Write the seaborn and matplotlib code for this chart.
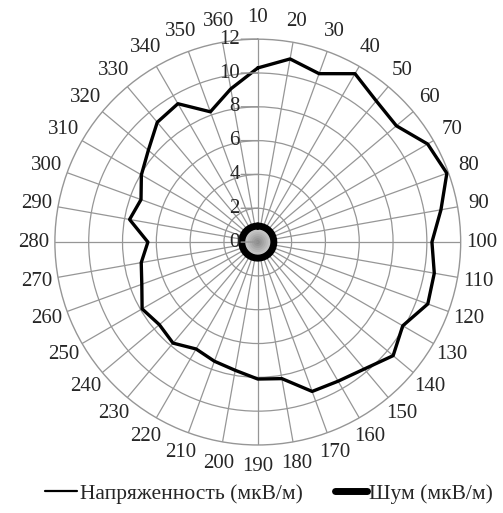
import numpy as np
import pandas as pd
import matplotlib
matplotlib.use("Agg")
import matplotlib.pyplot as plt
from matplotlib.lines import Line2D
import seaborn as sns

# ---- data ----
directions = [10, 20, 30, 40, 50, 60, 70, 80, 90, 100, 110, 120,
              130, 140, 150, 160, 170, 180, 190, 200, 210, 220, 230, 240,
              250, 260, 270, 280, 290, 300, 310, 320, 330, 340, 350, 360]
strength = [10.3, 11.0, 10.6, 11.5, 10.9, 10.7, 11.6, 11.9, 11.0, 10.3, 10.6, 10.7,
            9.9, 10.45, 9.8, 9.5, 9.4, 8.2, 8.1, 7.7, 7.5, 7.3, 7.8, 7.6,
            7.9, 7.3, 7.0, 6.5, 7.7, 7.35, 7.95, 8.45, 9.25, 9.45, 8.2, 9.2]
noise = [0.95, 0.95, 0.95, 0.95, 0.95, 0.95, 0.95, 0.95, 0.95, 0.95, 0.95, 0.95,
         0.95, 0.95, 0.95, 0.95, 0.95, 0.95, 0.95, 0.95, 0.95, 0.95, 0.95, 0.95,
         0.95, 0.95, 0.95, 0.95, 0.95, 0.95, 0.95, 0.95, 0.95, 0.95, 0.95, 0.95]
r_ticks = [0, 2, 4, 6, 8, 10, 12]
label_strength = "Напряженность (мкВ/м)"
label_noise = "Шум (мкВ/м)"

sns.set_style("white")
plt.rcParams['font.family'] = ['Liberation Serif', 'DejaVu Serif']
plt.rcParams['font.size'] = 15

n = len(directions)
theta = np.deg2rad(np.arange(n) * 360.0 / n)
theta_closed = np.append(theta, theta[0] + 2 * np.pi)

df = pd.DataFrame({
    "theta": np.concatenate([theta_closed, theta_closed]),
    "value": np.concatenate([strength + [strength[0]], noise + [noise[0]]]),
    "series": [label_strength] * (n + 1) + [label_noise] * (n + 1),
})

fig = plt.figure(figsize=(5.03, 5.13), dpi=100)
ax = fig.add_axes([0.109, 0.1326, 0.807, 0.791], projection='polar')
ax.set_theta_zero_location('N')
ax.set_theta_direction(-1)
ax.set_ylim(0, 12)

# gray gradient fill inside noise ring
nz = np.array(noise + [noise[0]])
grays = np.linspace(0.85, 0.55, 8)
for k, g in zip(np.linspace(1.0, 0.12, 8), grays):
    ax.fill(theta_closed, nz * k, color=(g, g, g), lw=0, zorder=2)

sub1 = df[df.series == label_strength]
sub2 = df[df.series == label_noise]
sns.lineplot(data=sub1, x="theta", y="value", sort=False, estimator=None,
             color='black', lw=2.4, ax=ax, legend=False, zorder=4)
sns.lineplot(data=sub2, x="theta", y="value", sort=False, estimator=None,
             color='black', lw=5, ax=ax, legend=False, zorder=4)
ax.set_xlabel("")
ax.set_ylabel("")

# grid
ax.set_xticks(theta)
ax.set_xticklabels([str(d) for d in directions], fontsize=15)
ax.tick_params(axis='x', pad=5)
ax.set_yticks(r_ticks[1:-1])
ax.set_yticklabels([])
ax.grid(True, color='#969696', lw=0.9)
ax.spines['polar'].set_color('#969696')
ax.spines['polar'].set_linewidth(1.0)

for r in r_ticks:
    ax.annotate('', xy=(0, r), xytext=(-12, 0), textcoords='offset points',
                arrowprops=dict(arrowstyle='-', color='#969696', lw=1,
                                shrinkA=0, shrinkB=0), zorder=5)
    ax.annotate(str(r), xy=(0, r), xytext=(-13, 0), textcoords='offset points',
                ha='right', va='center', fontsize=15, zorder=6)

handles = [Line2D([], [], color='black', lw=1.6),
           Line2D([], [], color='black', lw=5)]
fig.legend(handles, [label_strength, label_noise], loc='center',
           bbox_to_anchor=(0.535, 0.038), ncol=2, frameon=False,
           fontsize=15.5, handlelength=1.5, handletextpad=0.1, columnspacing=1.5)

fig.savefig("out.png", dpi=100)
